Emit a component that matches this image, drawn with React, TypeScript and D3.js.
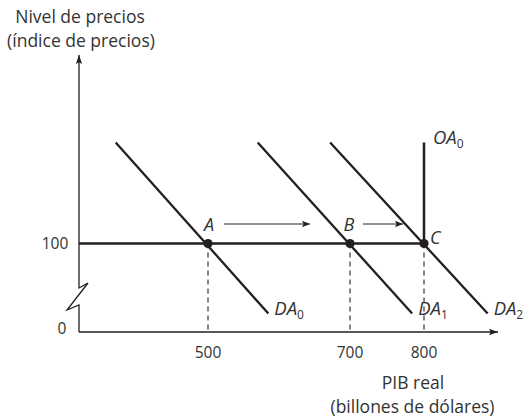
import React from "react";
import * as d3 from "d3";

const W = 527;
const H = 418;

// Data
const quantities = [500, 700, 800]; // equilibrium real GDP (billions)
const tickLabels = ["500", "700", "800"];
const priceLevel = 100;
const pointLabels = ["A", "B", "C"];
const demandNames = ["DA", "DA", "DA"];
const demandSubs = ["0", "1", "2"];
// Demand curves: [q, p] endpoints
const da0 = [[370, 140.4], [585, 72]];
const da1 = [[570, 140.4], [784, 72]];
const da2 = [[672, 140.4], [886, 72]];
const demandCurves = [da0, da1, da2];
// Vertical aggregate supply
const oaQ = 800;
const oaTop = 140.4;

const FONT = "'Open Sans', sans-serif";
const TXT = "#333";
const INK = "#231f20";

export default function App() {
  const x = d3.scaleLinear().domain([500, 700, 800]).range([208, 350, 424]);
  const y = d3.scaleLinear().domain([100, 140]).range([243.5, 143.5]);

  const x0 = 79;
  const yAxis = 332;
  const yTop = 55;
  const xRight = 498;

  const line = d3
    .line<number[]>()
    .x((d) => x(d[0]))
    .y((d) => y(d[1]));

  const py = y(priceLevel);

  return (
    <svg width={W} height={H} style={{ position: "absolute", left: 0, top: 0, background: "#fff" }}>
      <defs>
        <marker id="ah" viewBox="0 0 10 10" refX="10" refY="5" markerWidth="8" markerHeight="8" markerUnits="userSpaceOnUse" orient="auto">
          <path d="M0,1 L10,5 L0,9 L2,5 Z" fill={INK} />
        </marker>
        <marker id="ahs" viewBox="0 0 10 10" refX="10" refY="5" markerWidth="9" markerHeight="9" markerUnits="userSpaceOnUse" orient="auto">
          <path d="M0,1.5 L10,5 L0,8.5 L2,5 Z" fill={INK} />
        </marker>
      </defs>

      {/* Y axis with break */}
      <path
        d={`M${x0},${yAxis} L${x0},305 L67,310 L88,283 L${x0},288 L${x0},${yTop}`}
        fill="none"
        stroke={INK}
        strokeWidth={1.3}
        markerEnd="url(#ahs)"
      />
      {/* X axis */}
      <line x1={x0} y1={yAxis} x2={xRight} y2={yAxis} stroke={INK} strokeWidth={1.3} markerEnd="url(#ahs)" />

      {/* dashed verticals */}
      {quantities.map((q, i) => (
        <line key={"d" + i} x1={x(q)} y1={py} x2={x(q)} y2={yAxis} stroke={INK} strokeWidth={1.1} strokeDasharray="5,4" />
      ))}

      {/* price level line */}
      <line x1={x0} y1={py} x2={x(oaQ)} y2={py} stroke={INK} strokeWidth={2.5} />
      {/* OA vertical */}
      <line x1={x(oaQ)} y1={y(oaTop)} x2={x(oaQ)} y2={py} stroke={INK} strokeWidth={2.5} />

      {/* demand curves */}
      {demandCurves.map((c, i) => (
        <path key={"c" + i} d={line(c) || ""} fill="none" stroke={INK} strokeWidth={2.3} />
      ))}

      {/* points */}
      {quantities.map((q, i) => (
        <circle key={"p" + i} cx={x(q)} cy={py} r={4.6} fill={INK} />
      ))}

      {/* arrows */}
      <line x1={224} y1={224} x2={310} y2={224} stroke={INK} strokeWidth={1} markerEnd="url(#ah)" />
      <line x1={363} y1={224} x2={403} y2={224} stroke={INK} strokeWidth={1} markerEnd="url(#ah)" />

      {/* point labels */}
      <g fontFamily={FONT} fontSize={18} fill={TXT} fontStyle="italic">
        <text x={x(quantities[0]) + 1} y={231} textAnchor="middle">{pointLabels[0]}</text>
        <text x={x(quantities[1]) - 1} y={231} textAnchor="middle">{pointLabels[1]}</text>
        <text x={x(quantities[2]) + 6} y={244}>{pointLabels[2]}</text>
      </g>

      {/* curve labels */}
      <g fontFamily={FONT} fontSize={18.5} fill={TXT}>
        {demandCurves.map((c, i) => (
          <text key={"l" + i} x={x(c[1][0]) + 6} y={315}>
            <tspan fontStyle="italic">{demandNames[i]}</tspan>
            <tspan fontSize={12} dy={4}>{demandSubs[i]}</tspan>
          </text>
        ))}
        <text x={433} y={144}>
          <tspan fontStyle="italic">OA</tspan>
          <tspan fontSize={12} dy={4}>0</tspan>
        </text>
      </g>

      {/* tick labels */}
      <g fontFamily={FONT} fontSize={15.5} fill={TXT} textAnchor="middle">
        {quantities.map((q, i) => (
          <text key={"t" + i} x={x(q)} y={358}>{tickLabels[i]}</text>
        ))}
        <text x={55} y={249}>100</text>
        <text x={62} y={334}>0</text>
      </g>

      {/* axis titles */}
      <g fontFamily={FONT} fontSize={17.5} fill={TXT} textAnchor="middle">
        <text x={80} y={23}>Nivel de precios</text>
        <text x={81} y={47}>(índice de precios)</text>
        <text x={413} y={389}>PIB real</text>
        <text x={412.5} y={413}>(billones de dólares)</text>
      </g>
    </svg>
  );
}
